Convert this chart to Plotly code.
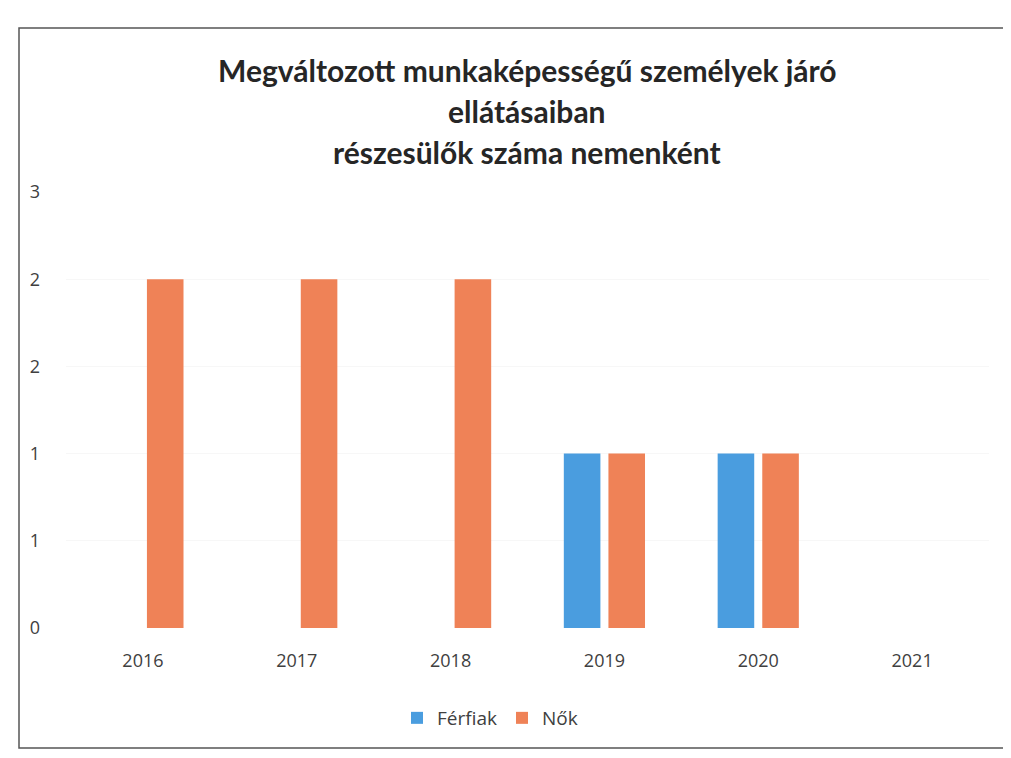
import plotly.graph_objects as go

years = ["2016", "2017", "2018", "2019", "2020", "2021"]
ferfiak = [0, 0, 0, 1, 1, 0]
nok = [2, 2, 2, 1, 1, 0]
y_tickvals = [0, 0.5, 1, 1.5, 2, 2.5]
y_ticktext = ["0", "1", "1", "2", "2", "3"]
title_lines = ["Megváltozott munkaképességű személyek járó", "ellátásaiban", "részesülők száma nemenként"]

W, H = 1011, 758
OFF = 8  # page body offset
L, R, T, B = 66 - OFF, 22 + OFF, 192 - OFF, 130 + OFF
pw, ph = W - L - R, H - T - B

fig = go.Figure()
fig.add_trace(go.Bar(name="Férfiak", x=years, y=ferfiak, marker_color="#4A9DDF", marker_line_width=0))
fig.add_trace(go.Bar(name="Nők", x=years, y=nok, marker_color="#EF8257", marker_line_width=0))

def px_x(x):
    return (x - OFF - L) / pw

def px_y(y):
    return (H - B - (y - OFF)) / ph

annotations = []
for line, ypx in zip(title_lines, [70, 111, 152]):
    annotations.append(dict(text="<b>" + line + "</b>", x=px_x(527), y=px_y(ypx), xref="paper", yref="paper",
                            showarrow=False, xanchor="center", yanchor="middle",
                            font=dict(family="Lato, Open Sans, sans-serif", size=30, color="#262626")))

fig.update_layout(
    width=W, height=H,
    margin=dict(l=L, r=R, t=T, b=B, pad=0),
    paper_bgcolor="white", plot_bgcolor="white",
    barmode="group", bargap=0.42, bargroupgap=0.18,
    font=dict(family="Open Sans, sans-serif", size=18, color="#595959"),
    annotations=annotations,
    legend=dict(orientation="h", x=px_x(490), y=px_y(718), xanchor="center", yanchor="middle",
                font=dict(size=19, color="#404040"), itemwidth=30, traceorder="normal"),
    showlegend=True,
    shapes=[dict(type="rect", xref="paper", yref="paper",
                 x0=px_x(19), x1=px_x(1030), y0=px_y(748), y1=px_y(28),
                 line=dict(color="#555555", width=1.5))],
)
fig.update_xaxes(showgrid=False, showline=False, zeroline=False, ticks="", ticklabelstandoff=20,
                 tickfont=dict(size=18, color="#404040"))
fig.update_yaxes(range=[0, 2.5], tickvals=y_tickvals, ticktext=y_ticktext, showgrid=True,
                 gridcolor="#F7F7F7", zeroline=False, showline=False, ticks="", ticklabelstandoff=25,
                 tickfont=dict(size=18, color="#404040"))

fig.write_html("out.html")
